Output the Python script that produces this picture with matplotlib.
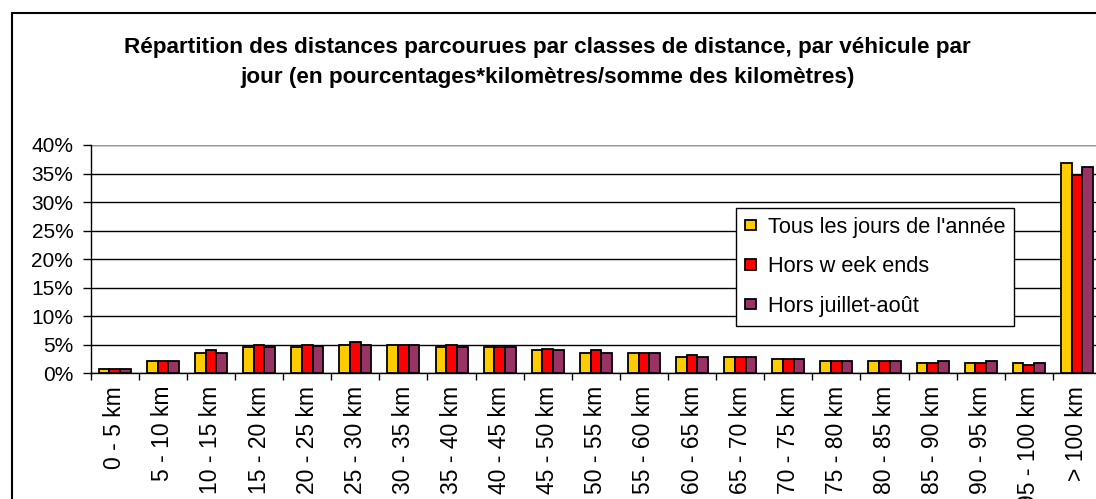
import matplotlib
matplotlib.use("Agg")
import matplotlib.pyplot as plt
import numpy as np
from matplotlib.patches import Rectangle
from matplotlib.ticker import FuncFormatter

plt.rcParams['font.family'] = ['Liberation Sans', 'DejaVu Sans']

categories = ["0 - 5 km", "5 - 10 km", "10 - 15 km", "15 - 20 km", "20 - 25 km",
              "25 - 30 km", "30 - 35 km", "35 - 40 km", "40 - 45 km", "45 - 50 km",
              "50 - 55 km", "55 - 60 km", "60 - 65 km", "65 - 70 km", "70 - 75 km",
              "75 - 80 km", "80 - 85 km", "85 - 90 km", "90 - 95 km", "95 - 100 km",
              "> 100 km"]
tous = [0.7, 2.2, 3.6, 4.65, 4.65, 5.0, 5.0, 4.65, 4.65, 4.0, 3.6, 3.6, 2.9, 2.9,
        2.5, 2.2, 2.2, 1.8, 1.8, 1.8, 36.9]
hors_we = [0.7, 2.2, 4.0, 5.0, 5.0, 5.4, 5.0, 5.0, 4.65, 4.3, 4.0, 3.6, 3.2, 2.9,
           2.5, 2.2, 2.2, 1.8, 1.8, 1.4, 34.8]
hors_ja = [0.7, 2.2, 3.6, 4.65, 4.7, 5.0, 5.0, 4.65, 4.65, 4.0, 3.6, 3.6, 2.9, 2.9,
           2.5, 2.2, 2.2, 2.2, 2.2, 1.8, 36.2]
series_names = ["Tous les jours de l'année", "Hors w eek ends", "Hors juillet-août"]
colors = ["#FFCC00", "#FF0000", "#993366"]
yticks = [0, 5, 10, 15, 20, 25, 30, 35, 40]
title_lines = ["Répartition des distances parcourues par classes de distance, par véhicule par",
               "jour (en pourcentages*kilomètres/somme des kilomètres)"]

W, H = 1096, 499
fig = plt.figure(figsize=(W / 100, H / 100), dpi=100)

# outer chart frame
fig.patches.append(Rectangle((11.5 / W, -0.1), 1.2, (H - 13) / H + 0.1,
                             transform=fig.transFigure, fill=False,
                             edgecolor='black', linewidth=1.5, zorder=0))

ax_left = 90.7 / W
ax_right = 1101.0 / W
ax_bottom = (H - 373.3) / H
ax_top = (H - 145.0) / H
ax = fig.add_axes([ax_left, ax_bottom, ax_right - ax_left, ax_top - ax_bottom])

n = len(categories)
x = np.arange(n)
bw = 0.222
for i, (vals, c, name) in enumerate(zip([tous, hors_we, hors_ja], colors, series_names)):
    ax.bar(x + (i - 1) * bw, vals, width=bw, color=c, edgecolor='black',
           linewidth=1.3, label=name, zorder=3)

ax.set_xlim(-0.5, n - 0.5)
ax.set_ylim(0, 40)
ax.set_yticks(yticks)
ax.yaxis.set_major_formatter(FuncFormatter(lambda v, p: f"{int(v)}%"))
ax.grid(axis='y', color='black', linewidth=1.0, zorder=1)
ax.set_axisbelow(True)

ax.set_xticks(x)
ax.set_xticklabels(categories, rotation=90, fontsize=16.5, va='top', ha='center')
ax.set_xticks(np.arange(-0.5, n, 1.0), minor=True)
ax.tick_params(axis='x', which='major', length=0, pad=9)
ax.tick_params(axis='x', which='minor', length=5, width=1, direction='out', color='black')
ax.tick_params(axis='y', length=6, width=1, direction='out', labelsize=15, pad=6.5)

for s in ['top', 'right']:
    ax.spines[s].set_visible(False)
ax.spines['left'].set_linewidth(1.0)
ax.spines['bottom'].set_linewidth(1.0)
ax.axhline(40, color='#999999', linewidth=1.5, zorder=2)

fig.text(0.4995, (H - 47) / H, title_lines[0], ha='center', va='center',
         fontsize=16.2, fontweight='bold')
fig.text(0.4995, (H - 78) / H, title_lines[1], ha='center', va='center',
         fontsize=16.2, fontweight='bold')

leg = ax.legend(loc='upper left', bbox_to_anchor=(736 / W, (H - 208) / H, 276 / W, 0),
                bbox_transform=fig.transFigure, fontsize=15.7, frameon=True,
                fancybox=False, edgecolor='black', framealpha=1,
                handlelength=0.5, handleheight=0.35, handletextpad=0.55,
                labelspacing=0.85, borderpad=0.4, borderaxespad=0)
leg.get_frame().set_linewidth(1.0)

fig.savefig("out.png", dpi=100)
